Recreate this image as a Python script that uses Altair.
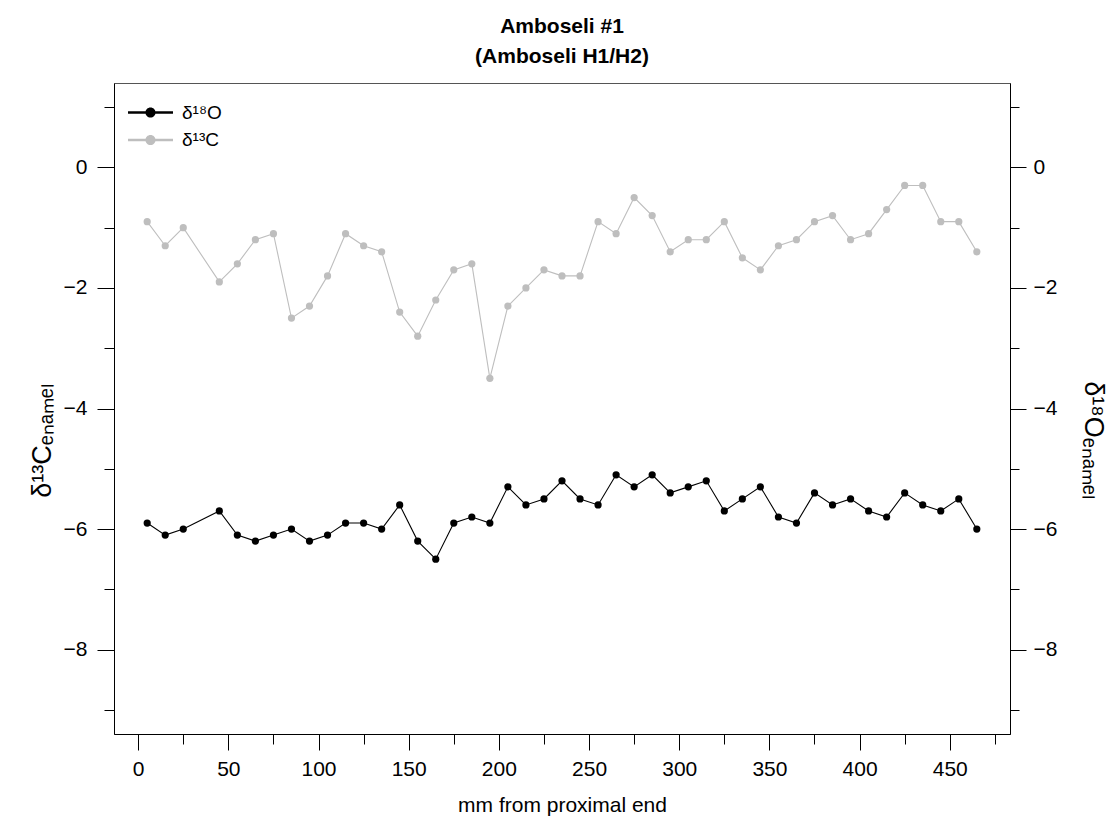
import altair as alt
import pandas as pd

FONT = "Liberation Sans"

# distance from proximal end (mm)
mm = [5, 15, 25, 45, 55, 65, 75, 85, 95, 105, 115, 125, 135, 145, 155, 165,
      175, 185, 195, 205, 215, 225, 235, 245, 255, 265, 275, 285, 295, 305,
      315, 325, 335, 345, 355, 365, 375, 385, 395, 405, 415, 425, 435, 445,
      455, 465]

d18O = [-5.9, -6.1, -6.0, -5.7, -6.1, -6.2, -6.1, -6.0, -6.2, -6.1, -5.9, -5.9,
        -6.0, -5.6, -6.2, -6.5, -5.9, -5.8, -5.9, -5.3, -5.6, -5.5, -5.2, -5.5,
        -5.6, -5.1, -5.3, -5.1, -5.4, -5.3, -5.2, -5.7, -5.5, -5.3, -5.8, -5.9,
        -5.4, -5.6, -5.5, -5.7, -5.8, -5.4, -5.6, -5.7, -5.5, -6.0]

d13C = [-0.9, -1.3, -1.0, -1.9, -1.6, -1.2, -1.1, -2.5, -2.3, -1.8, -1.1, -1.3,
        -1.4, -2.4, -2.8, -2.2, -1.7, -1.6, -3.5, -2.3, -2.0, -1.7, -1.8, -1.8,
        -0.9, -1.1, -0.5, -0.8, -1.4, -1.2, -1.2, -0.9, -1.5, -1.7, -1.3, -1.2,
        -0.9, -0.8, -1.2, -1.1, -0.7, -0.3, -0.3, -0.9, -0.9, -1.4]

series_names = ["δ¹⁸O", "δ¹³C"]
series_colors = ["#000000", "#BEBEBE"]

x_major = [0, 50, 100, 150, 200, 250, 300, 350, 400, 450]
x_minor = [25, 75, 125, 175, 225, 275, 325, 375, 425, 475]
y_major = [-8, -6, -4, -2, 0]
y_minor = [-9, -7, -5, -3, -1, 1]

x_domain = [-13.4, 483.4]
y_domain = [-9.4, 1.4]

df = pd.concat([
    pd.DataFrame({"mm": mm, "value": d18O, "series": series_names[0]}),
    pd.DataFrame({"mm": mm, "value": d13C, "series": series_names[1]}),
], ignore_index=True)

W, H = 896, 651

xs = alt.Scale(domain=x_domain, nice=False, zero=False)
ys = alt.Scale(domain=y_domain, nice=False, zero=False)

base = alt.Chart(df)

legend_path = ("M-2,-0.12L2,-0.12L2,0.12L-2,0.12Z "
               "M0.45,0A0.45,0.45,0,1,1,-0.45,0A0.45,0.45,0,1,1,0.45,0Z")

lines = base.mark_line(strokeWidth=1.1).encode(
    x=alt.X("mm:Q", scale=xs, axis=alt.Axis(
        values=x_major, orient="bottom", tickSize=16, labelPadding=8,
        title="mm from proximal end", titleFontSize=21, titleFontWeight="normal",
        titleY=71, titleBaseline="middle")),
    y=alt.Y("value:Q", scale=ys, axis=alt.Axis(
        values=y_major, orient="left", tickSize=17, labelPadding=10,
        title="δ¹³Cₑₙₐₘₑₗ", titleFontSize=27, titleFontWeight="normal",
        titleX=-72, titleY=357, titleAngle=270, titleBaseline="middle")),
    stroke=alt.Stroke("series:N", scale=alt.Scale(domain=series_names, range=series_colors),
                      legend=None),
    order="mm:Q",
)

points = base.mark_point(filled=True, size=52, opacity=1).encode(
    x=alt.X("mm:Q", scale=xs, axis=None),
    y=alt.Y("value:Q", scale=ys, axis=None),
    fill=alt.Fill("series:N", scale=alt.Scale(domain=series_names, range=series_colors),
                  legend=alt.Legend(
                      title=None, orient="none", legendX=25, legendY=18,
                      symbolType=legend_path, symbolSize=506, symbolStrokeWidth=0,
                      labelFontSize=19, labelFont=FONT, labelOffset=20,
                      rowPadding=5.5, padding=0)),
)

right_major = base.mark_point(opacity=0).encode(
    x=alt.X("mm:Q", scale=xs, axis=None),
    y=alt.Y("value:Q", scale=ys, axis=alt.Axis(
        values=y_major, orient="right", tickSize=16, labelPadding=7,
        title="δ¹⁸Oₑₙₐₘₑₗ", titleFontSize=27, titleFontWeight="normal",
        titleX=82, titleY=357, titleAngle=90, titleBaseline="middle")),
)

left_minor = base.mark_point(opacity=0).encode(
    x=alt.X("mm:Q", scale=xs, axis=None),
    y=alt.Y("value:Q", scale=ys, axis=alt.Axis(
        values=y_minor, orient="left", tickSize=10, labels=False,
        domain=False, title=None)),
)

right_minor = base.mark_point(opacity=0).encode(
    x=alt.X("mm:Q", scale=xs, axis=None),
    y=alt.Y("value:Q", scale=ys, axis=alt.Axis(
        values=y_minor, orient="right", tickSize=9, labels=False,
        domain=False, title=None)),
)

bottom_minor = base.mark_point(opacity=0).encode(
    x=alt.X("mm:Q", scale=xs, axis=alt.Axis(
        values=x_minor, orient="bottom", tickSize=10, labels=False,
        domain=False, title=None)),
    y=alt.Y("value:Q", scale=ys, axis=None),
)

chart = alt.layer(
    lines, points, right_major, left_minor, right_minor, bottom_minor
).resolve_scale(
    x="independent", y="independent", fill="independent", stroke="independent"
).properties(
    width=W, height=H,
    title=alt.TitleParams(text=["Amboseli #1", "(Amboseli H1/H2)"],
                          fontSize=21, font=FONT, fontWeight="bold",
                          anchor="middle", lineHeight=30, offset=16, color="black"),
    autosize=alt.AutoSizeParams(type="none"),
    padding={"left": 114, "top": 83, "right": 101, "bottom": 89},
    background="white",
).configure_view(
    stroke="#555555", strokeWidth=1
).configure_axis(
    labelFont=FONT, titleFont=FONT, labelFontSize=21, labelColor="black",
    titleColor="black", tickColor="black", domainColor="black",
    tickWidth=1, domainWidth=1, grid=False
)

chart.save("out.html", embed_options={"renderer": "svg", "actions": False})
